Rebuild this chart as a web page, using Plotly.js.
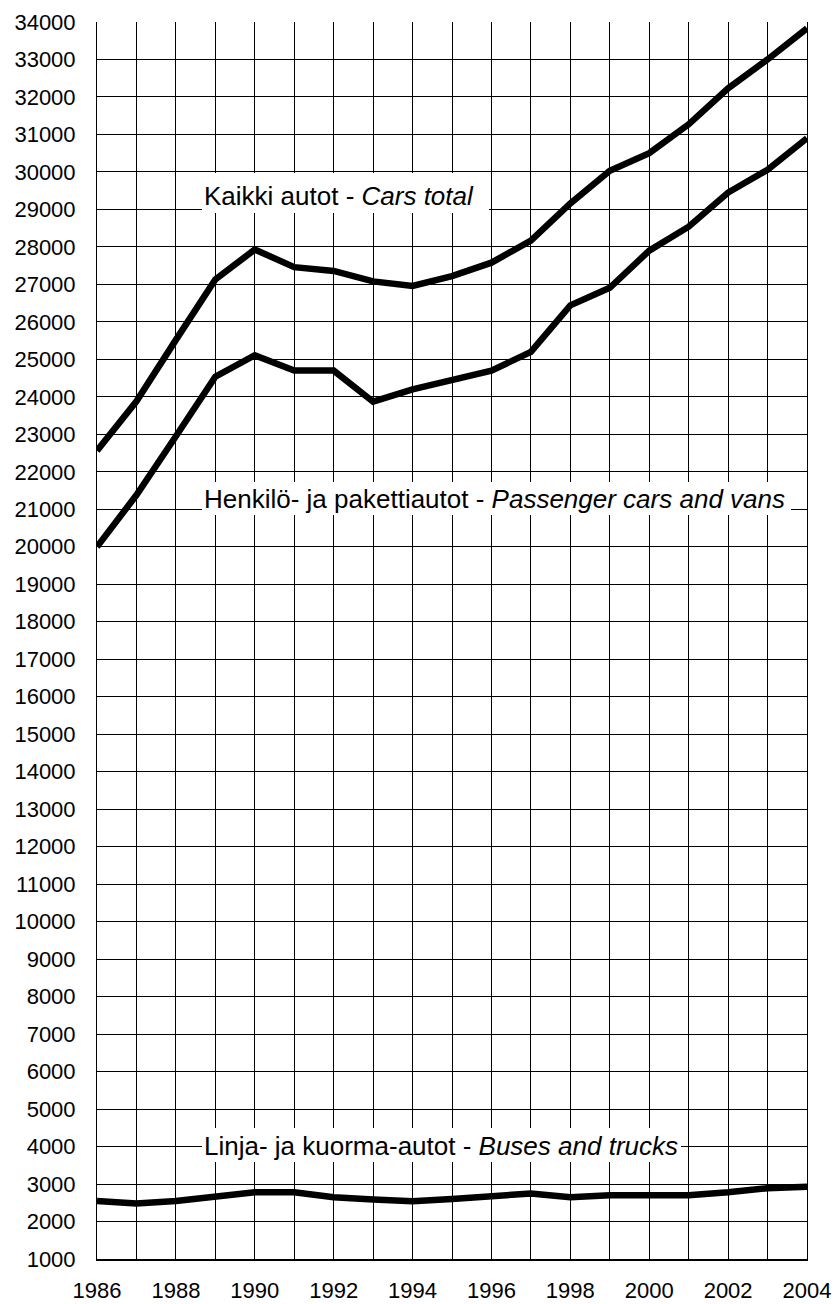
<!DOCTYPE html>
<html>
<head>
<meta charset="utf-8">
<script src="https://cdn.plot.ly/plotly-3.0.1.min.js"></script>
<style>
  html, body { margin: 0; padding: 0; background: #fff; }
  #chart { width: 837px; height: 1304px; }
</style>
</head>
<body>
<div id="chart"></div>
<script>
// ---- Data ----
const years = [1986, 1987, 1988, 1989, 1990, 1991, 1992, 1993, 1994, 1995,
               1996, 1997, 1998, 1999, 2000, 2001, 2002, 2003, 2004];

// Kaikki autot - Cars total
const carsTotal = [22560, 23880, 25520, 27130, 27930, 27460, 27360, 27080, 26960, 27220,
                   27580, 28170, 29160, 30030, 30500, 31270, 32230, 33000, 33830];

// Henkilö- ja pakettiautot - Passenger cars and vans
const passengerCars = [20000, 21380, 22950, 24540, 25110, 24700, 24700, 23870, 24200, 24450,
                       24700, 25200, 26440, 26910, 27900, 28540, 29450, 30060, 30900];

// Linja- ja kuorma-autot - Buses and trucks
const busesTrucks = [2550, 2480, 2550, 2660, 2780, 2780, 2650, 2590, 2540, 2600,
                     2670, 2750, 2650, 2700, 2700, 2700, 2780, 2890, 2930];

const xTickVals = years;
const xTickText = ["1986", "", "1988", "", "1990", "", "1992", "", "1994", "", "1996", "",
                   "1998", "", "2000", "", "2002", "", "2004"];

const yTickVals = [1000, 2000, 3000, 4000, 5000, 6000, 7000, 8000, 9000, 10000, 11000,
                   12000, 13000, 14000, 15000, 16000, 17000, 18000, 19000, 20000, 21000,
                   22000, 23000, 24000, 25000, 26000, 27000, 28000, 29000, 30000, 31000,
                   32000, 33000, 34000];
const yTickText = yTickVals.map(v => String(v));

const seriesLabels = [
  "Kaikki autot - <i>Cars total</i>",
  "Henkilö- ja pakettiautot - <i>Passenger cars and vans</i>",
  "Linja- ja kuorma-autot - <i>Buses and trucks</i>"
];

// ---- Traces ----
const lineStyle = { color: "#000", width: 6.5 };
const traces = [
  { x: years, y: carsTotal, type: "scatter", mode: "lines", line: lineStyle, name: "Cars total", hoverinfo: "x+y" },
  { x: years, y: passengerCars, type: "scatter", mode: "lines", line: lineStyle, name: "Passenger cars and vans", hoverinfo: "x+y" },
  { x: years, y: busesTrucks, type: "scatter", mode: "lines", line: lineStyle, name: "Buses and trucks", hoverinfo: "x+y" }
];

// ---- Label boxes (white backgrounds that interrupt the grid) ----
const labelFont = { family: "Liberation Sans, Arial, sans-serif", size: 26, color: "#000" };
const boxes = [
  { x0: 0.1479, x1: 0.5521, y0: 0.8456, y1: 0.8779, ty: 0.8593 },
  { x0: 0.1479, x1: 0.9775, y0: 0.6015, y1: 0.6281, ty: 0.6140 },
  { x0: 0.1479, x1: 0.8225, y0: 0.0784, y1: 0.1059, ty: 0.0914 }
];

const shapes = boxes.map(b => ({
  type: "rect", xref: "paper", yref: "paper",
  x0: b.x0, x1: b.x1, y0: b.y0, y1: b.y1,
  fillcolor: "#fff", line: { width: 0 }, layer: "above"
}));

const annotations = boxes.map((b, i) => ({
  xref: "paper", yref: "paper",
  x: 0.1493, y: b.ty, xanchor: "left", yanchor: "middle",
  text: seriesLabels[i], showarrow: false, font: labelFont,
  borderpad: 0
}));

const tickFont = { family: "Liberation Sans, Arial, sans-serif", size: 22, color: "#000" };

const layout = {
  width: 837, height: 1304,
  margin: { l: 97, r: 30, t: 22, b: 45 },
  paper_bgcolor: "#fff", plot_bgcolor: "#fff",
  showlegend: false,
  xaxis: {
    range: [1986, 2004],
    tickmode: "array", tickvals: xTickVals, ticktext: xTickText,
    showgrid: true, gridcolor: "#000", gridwidth: 1,
    zeroline: false,
    showline: true, linecolor: "#000", linewidth: 2,
    ticks: "", ticklabelstandoff: 11,
    tickfont: tickFont, fixedrange: true
  },
  yaxis: {
    range: [1000, 34000],
    tickmode: "array", tickvals: yTickVals, ticktext: yTickText,
    showgrid: true, gridcolor: "#000", gridwidth: 1,
    zeroline: false,
    showline: true, mirror: true, linecolor: "#000", linewidth: 1,
    ticks: "", ticklabelstandoff: 16,
    tickfont: tickFont, fixedrange: true
  },
  shapes: shapes,
  annotations: annotations
};

Plotly.newPlot("chart", traces, layout, { displayModeBar: false, staticPlot: true });
</script>
</body>
</html>
